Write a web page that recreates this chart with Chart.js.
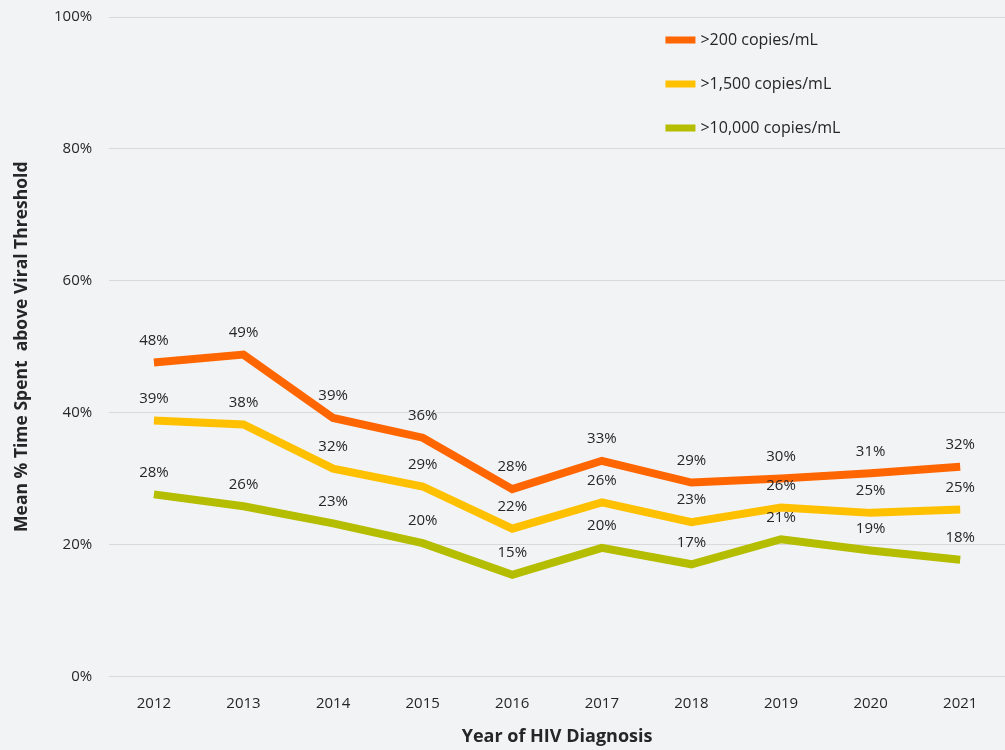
<!DOCTYPE html>
<html>
<head>
<meta charset="utf-8">
<script src="https://cdn.jsdelivr.net/npm/chart.js@4/dist/chart.umd.min.js"></script>
<style>
  html, body { margin: 0; padding: 0; background: #f2f3f5; }
  #wrap { width: 1005px; height: 750px; }
</style>
</head>
<body>
<div id="wrap"><canvas id="chart" width="1005" height="750"></canvas></div>
<script>
const years = ['2012', '2013', '2014', '2015', '2016', '2017', '2018', '2019', '2020', '2021'];

const over200 = [47.6, 48.8, 39.2, 36.2, 28.4, 32.7, 29.4, 30.0, 30.8, 31.8];
const over1500 = [38.8, 38.2, 31.5, 28.8, 22.4, 26.4, 23.4, 25.6, 24.8, 25.3];
const over10000 = [27.6, 25.8, 23.2, 20.2, 15.4, 19.5, 17.0, 20.8, 19.1, 17.7];

const seriesNames = ['>200 copies/mL', '>1,500 copies/mL', '>10,000 copies/mL'];
const seriesColors = ['#ff6600', '#ffc000', '#b5bd00'];

const FONT = '"Open Sans", sans-serif';
const TEXT = '#262626';

// small label plugin: value above each point
const pointLabels = {
  id: 'pointLabels',
  afterDatasetsDraw: function(chart) {
    const ctx = chart.ctx;
    ctx.save();
    ctx.font = '15px ' + FONT;
    ctx.fillStyle = TEXT;
    ctx.textAlign = 'center';
    ctx.textBaseline = 'middle';
    chart.data.datasets.forEach((ds, i) => {
      chart.getDatasetMeta(i).data.forEach((pt, j) => {
        ctx.fillText(Math.round(ds.data[j]) + '%', pt.x, pt.y - 22);
      });
    });
    ctx.restore();
  }
};

// legend stacked in the top right of the plot
const sideLegend = {
  id: 'sideLegend',
  afterDraw: function(chart) {
    const ctx = chart.ctx;
    const area = chart.chartArea;
    const x = area.left + (area.right - area.left) * 0.621;
    ctx.save();
    ctx.font = '16px ' + FONT;
    ctx.textBaseline = 'middle';
    chart.data.datasets.forEach((ds, i) => {
      const y = area.top + 23 + i * 44;
      ctx.fillStyle = ds.borderColor;
      ctx.fillRect(x, y - 3.5, 30, 7);
      ctx.fillStyle = TEXT;
      ctx.fillText(ds.label, x + 35, y);
    });
    ctx.restore();
  }
};

const datasets = [over200, over1500, over10000].map((values, i) => {
  return {
    label: seriesNames[i],
    data: values,
    borderColor: seriesColors[i],
    backgroundColor: seriesColors[i],
    borderWidth: 8,
    pointRadius: 0,
    tension: 0,
    fill: false
  };
});

new Chart(document.getElementById('chart'), {
  type: 'line',
  data: {
    labels: years,
    datasets: datasets
  },
  plugins: [pointLabels, sideLegend],
  options: {
    responsive: false,
    animation: false,
    layout: {
      padding: { top: 4, right: 0, bottom: 2, left: 12 }
    },
    plugins: {
      legend: { display: false },
      tooltip: { enabled: false }
    },
    scales: {
      x: {
        offset: true,
        grid: { display: false },
        border: { display: false },
        ticks: {
          color: TEXT,
          font: { family: FONT, size: 15 },
          padding: 10
        },
        title: {
          display: true,
          text: 'Year of HIV Diagnosis',
          color: TEXT,
          font: { family: FONT, size: 18, weight: 'bold' },
          padding: { top: 4, bottom: 0 }
        }
      },
      y: {
        min: 0,
        max: 100,
        grid: {
          color: '#d9d9d9',
          lineWidth: 1,
          drawTicks: true,
          tickLength: 9,
          tickColor: 'rgba(0,0,0,0)'
        },
        border: { display: false },
        ticks: {
          stepSize: 20,
          color: TEXT,
          font: { family: FONT, size: 15 },
          padding: 8,
          callback: function(v) { return v + '%'; }
        },
        title: {
          display: true,
          text: 'Mean % Time Spent  above Viral Threshold',
          color: TEXT,
          font: { family: FONT, size: 17.5, weight: 'bold' },
          padding: { top: 0, bottom: 13 }
        }
      }
    }
  }
});
</script>
</body>
</html>
